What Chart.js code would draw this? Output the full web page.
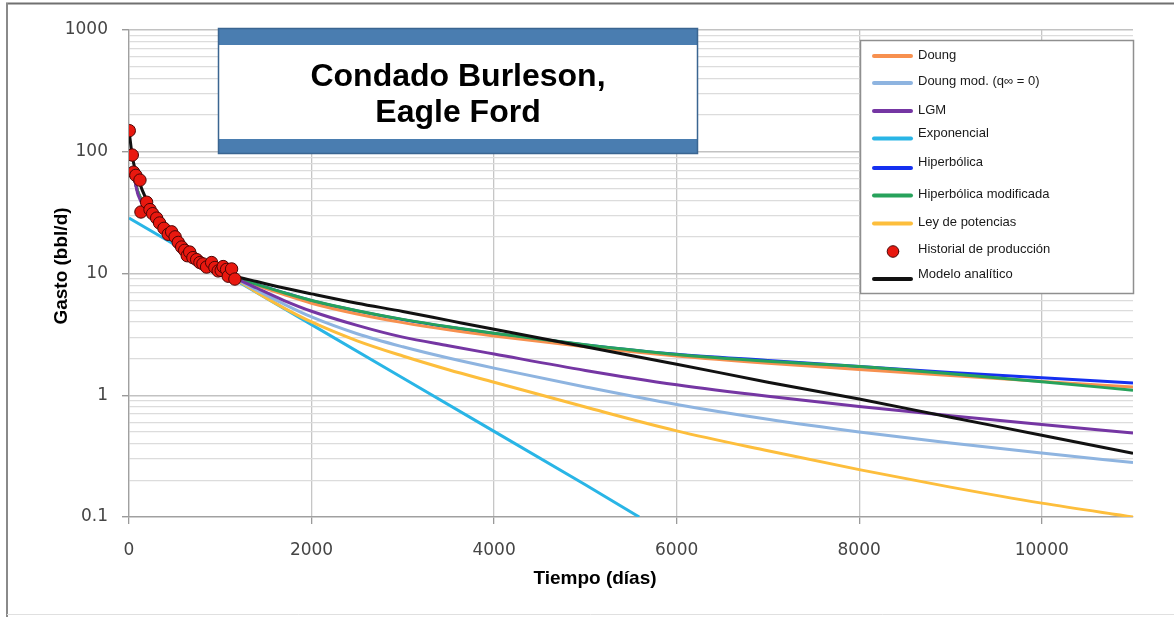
<!DOCTYPE html>
<html>
<head>
<meta charset="utf-8">
<title>Condado Burleson, Eagle Ford</title>
<script src="https://cdn.jsdelivr.net/npm/chart.js@4.4.1/dist/chart.umd.min.js"></script>
<style>
  html, body { margin: 0; padding: 0; background: #ffffff; }
  canvas { display: block; }
</style>
</head>
<body>
<canvas id="chart" width="1174" height="617"></canvas>
<script>
// ---- data ----------------------------------------------------------------
const seriesNames = [
  'Doung', 'Doung mod. (q\u221E = 0)', 'LGM', 'Exponencial', 'Hiperb\u00F3lica',
  'Hiperb\u00F3lica modificada', 'Ley de potencias', 'Historial de producci\u00F3n', 'Modelo anal\u00EDtico'
];

// production history (days, bbl/d)
const prodDays = [3, 36, 50, 75, 120, 131, 193, 230, 259, 303, 335, 383, 430, 467, 505, 540, 577, 610,
  638, 665, 700, 741, 777, 810, 850, 905, 941, 977, 1010, 1032, 1069, 1087, 1124, 1160];
const prodRate = [149, 94, 68, 64, 58.5, 32, 38.5, 33.5, 31, 28.5, 26, 23.5, 21, 22, 20, 18, 16.5, 15.5,
  14, 15, 13.5, 13, 12.3, 12, 11.3, 12.3, 11.2, 10.5, 10.6, 11.4, 10.8, 9.5, 10.9, 9.0];

// forecast models, sampled on a common time grid (days)
const modelDays = [0, 40, 100, 200, 300, 400, 500, 600, 700, 800, 900, 1000, 1150, 1400, 1700, 2000,
  2500, 3000, 3500, 4000, 5000, 6000, 7000, 8000, 9000, 10000, 11000];
const analyticRate = [150, 88, 60, 39, 29, 24, 20.5, 17, 14.7, 13.1, 11.9, 10.9, 9.6, 8.6, 7.6, 6.8,
  5.7, 4.88, 4.12, 3.48, 2.5, 1.8, 1.28, 0.93, 0.66, 0.47, 0.333];
const lgmRate = [null, 72, 44, 33, 27, 22.5, 19, 16.3, 14.3, 12.8, 11.6, 10.6, 9.3, 7.6, 6.0, 4.9,
  3.75, 3.0, 2.55, 2.18, 1.6, 1.22, 0.98, 0.81, 0.68, 0.575, 0.49];
const hypModRate = [null, 70, 46, 34, 27.5, 23, 19.5, 16.8, 14.7, 13.1, 11.9, 10.9, 9.5, 8.15, 6.95, 6.0,
  4.95, 4.2, 3.65, 3.23, 2.6, 2.16, 1.9, 1.72, 1.5, 1.29, 1.1];
const hypRate = [null, 70, 46, 34, 27.5, 23, 19.5, 16.8, 14.7, 13.1, 11.9, 10.9, 9.5, 8.15, 6.95, 5.98,
  4.93, 4.18, 3.63, 3.21, 2.59, 2.17, 1.93, 1.72, 1.54, 1.39, 1.26];
const doungRate = [null, 70, 46, 34, 27.5, 23, 19.5, 16.8, 14.7, 13.1, 11.9, 10.9, 9.4, 8.0, 6.7, 5.7,
  4.65, 3.95, 3.45, 3.07, 2.5, 2.1, 1.83, 1.63, 1.45, 1.3, 1.17];
const doungModRate = [null, 70, 46, 34, 27.5, 23, 19.5, 16.8, 14.7, 13.1, 11.9, 10.9, 9.3, 7.3, 5.6, 4.4,
  3.2, 2.5, 2.02, 1.67, 1.17, 0.84, 0.635, 0.5, 0.405, 0.335, 0.28];
const powerLawRate = [null, 70, 46, 34, 27.5, 23, 19.5, 16.8, 14.7, 13.1, 11.9, 10.9, 9.2, 7.0, 5.2, 4.0,
  2.8, 2.1, 1.62, 1.28, 0.8, 0.51, 0.35, 0.245, 0.176, 0.13, 0.1];
// exponential decline is drawn until it leaves the axis
const expDays = [0, 1000, 2000, 3000, 4000, 5000, 5590];
const expRate = [28.6, 10.43, 3.8, 1.386, 0.505, 0.184, 0.1];

// axis ticks
const xTicks = [0, 2000, 4000, 6000, 8000, 10000];
const yTicks = [0.1, 1, 10, 100, 1000];
const yTickLabels = ['0.1', '1', '10', '100', '1000'];

// ---- helpers ---------------------------------------------------------------
function pairs(xs, ys) {
  const out = [];
  xs.forEach((x, i) => { if (ys[i] !== null && ys[i] !== undefined) out.push({ x: x, y: ys[i] }); });
  return out;
}
function isDecade(v) {
  return yTicks.some(t => Math.abs(t - v) / t < 1e-6);
}
// log grid: 1..9 x 10^k between the axis limits
const yGridValues = [];
for (let k = -1; k <= 2; k++) {
  for (let m = 1; m <= 9; m++) yGridValues.push(Number((m * Math.pow(10, k)).toPrecision(3)));
}
yGridValues.push(1000);

const colors = {
  doung: '#F7904F',
  doungMod: '#8EB4E0',
  lgm: '#7536A3',
  exp: '#29B5E6',
  hyp: '#1530F0',
  hypMod: '#27A25B',
  power: '#FDBE3C',
  prod: '#E8180F',
  analytic: '#111111'
};

function lineSet(label, data, color, order) {
  return {
    label: label, data: data, borderColor: color, backgroundColor: color,
    borderWidth: 3, pointRadius: 0, pointHoverRadius: 0, fill: false,
    cubicInterpolationMode: 'monotone', order: order
  };
}

const datasets = [
  lineSet(seriesNames[0], pairs(modelDays, doungRate), colors.doung, 4),
  lineSet(seriesNames[1], pairs(modelDays, doungModRate), colors.doungMod, 6),
  lineSet(seriesNames[2], pairs(modelDays, lgmRate), colors.lgm, 2),
  Object.assign(lineSet(seriesNames[3], pairs(expDays, expRate), colors.exp, 8),
    { clip: 0, cubicInterpolationMode: 'default', tension: 0 }),
  lineSet(seriesNames[4], pairs(modelDays, hypRate), colors.hyp, 5),
  lineSet(seriesNames[5], pairs(modelDays, hypModRate), colors.hypMod, 3),
  lineSet(seriesNames[6], pairs(modelDays, powerLawRate), colors.power, 7),
  {
    label: seriesNames[7], data: pairs(prodDays, prodRate), showLine: false,
    pointRadius: 6.2, pointHoverRadius: 6.2, pointBackgroundColor: colors.prod,
    pointBorderColor: '#4a0505', pointBorderWidth: 1, order: 0
  },
  lineSet(seriesNames[8], pairs(modelDays, analyticRate), colors.analytic, 1)
];

// ---- decorations: frame, title box, legend, axis titles --------------------
const decorations = {
  id: 'decorations',
  beforeDraw(chart) {
    const c = chart.ctx;
    c.save();
    c.fillStyle = '#ffffff';
    c.fillRect(0, 0, chart.width, chart.height);
    c.restore();
  },
  afterDraw(chart) {
    const c = chart.ctx;
    c.save();

    // outer frame
    c.strokeStyle = '#707070';
    c.lineWidth = 2;
    c.beginPath(); c.moveTo(6, 3.5); c.lineTo(chart.width, 3.5); c.stroke();
    c.strokeStyle = '#8a8a8a';
    c.beginPath(); c.moveTo(7, 3); c.lineTo(7, chart.height); c.stroke();
    c.strokeStyle = '#e0e0e0';
    c.lineWidth = 1;
    c.beginPath(); c.moveTo(7, 614.5); c.lineTo(chart.width, 614.5); c.stroke();

    // title box
    const bx = 218, by = 28, bw = 480, bh = 126;
    c.fillStyle = '#ffffff';
    c.fillRect(bx, by, bw, bh);
    c.fillStyle = '#4A7DB0';
    c.fillRect(bx, by, bw, 17);
    c.fillRect(bx, by + bh - 15, bw, 15);
    c.strokeStyle = '#3A6591';
    c.lineWidth = 1.5;
    c.strokeRect(bx + 0.5, by + 0.5, bw - 1, bh - 1);
    c.fillStyle = '#000000';
    c.font = 'bold 32px "Liberation Sans", Arial, sans-serif';
    c.textAlign = 'center';
    c.textBaseline = 'alphabetic';
    c.fillText('Condado Burleson,', bx + bw / 2, 86);
    c.fillText('Eagle Ford', bx + bw / 2, 122);

    // legend
    const lx = 860, ly = 40, lw = 273, lh = 253;
    c.fillStyle = '#ffffff';
    c.fillRect(lx, ly, lw, lh);
    c.strokeStyle = '#8f8f8f';
    c.lineWidth = 1.5;
    c.strokeRect(lx + 0.5, ly + 0.5, lw, lh);
    const rows = [
      { i: 0, line: 56, text: 55.5 },
      { i: 1, line: 83, text: 81.5 },
      { i: 2, line: 111, text: 110 },
      { i: 3, line: 138.5, text: 133 },
      { i: 4, line: 168, text: 162.5 },
      { i: 5, line: 195.5, text: 194 },
      { i: 6, line: 223.5, text: 222.5 },
      { i: 7, line: 251.5, text: 249 },
      { i: 8, line: 279, text: 274 }
    ];
    c.font = '13px "Liberation Sans", Arial, sans-serif';
    c.textAlign = 'left';
    c.textBaseline = 'middle';
    rows.forEach(r => {
      const ds = chart.data.datasets[r.i];
      if (ds.showLine === false) {
        c.beginPath();
        c.arc(893, r.line, 5.8, 0, Math.PI * 2);
        c.fillStyle = ds.pointBackgroundColor;
        c.fill();
        c.strokeStyle = ds.pointBorderColor;
        c.lineWidth = 1;
        c.stroke();
      } else {
        c.strokeStyle = ds.borderColor;
        c.lineWidth = 4;
        c.lineCap = 'round';
        c.beginPath(); c.moveTo(874, r.line); c.lineTo(911, r.line); c.stroke();
      }
      c.fillStyle = '#1a1a1a';
      c.fillText(ds.label, 918, r.text);
    });

    // axis titles
    c.fillStyle = '#000000';
    c.font = 'bold 19px "Liberation Sans", Arial, sans-serif';
    c.textAlign = 'center';
    c.textBaseline = 'middle';
    c.fillText('Tiempo (d\u00EDas)', 595, 579);
    c.translate(62, 266);
    c.rotate(-Math.PI / 2);
    c.fillText('Gasto (bbl/d)', 0, 0);

    c.restore();
  }
};

// ---- chart -----------------------------------------------------------------
new Chart(document.getElementById('chart'), {
  type: 'line',
  data: { datasets: datasets },
  options: {
    responsive: false,
    animation: false,
    devicePixelRatio: 1,
    layout: { padding: { top: 30, right: 41, left: 0, bottom: 0 } },
    plugins: { legend: { display: false }, title: { display: false }, tooltip: { enabled: false } },
    scales: {
      x: {
        type: 'linear',
        min: 0,
        max: 11000,
        afterBuildTicks: s => { s.ticks = xTicks.map(v => ({ value: v })); },
        afterFit: s => { s.height = 100; },
        grid: { color: '#c6c6c6', lineWidth: 1.3, tickLength: 7, tickColor: '#9a9a9a' },
        border: { display: true, color: '#a0a0a0', width: 1.3 },
        ticks: {
          autoSkip: false, maxRotation: 0, padding: 16, color: '#454545',
          font: { family: '"DejaVu Sans", Verdana, sans-serif', size: 17 },
          callback: v => String(v)
        }
      },
      y: {
        type: 'logarithmic',
        min: 0.1,
        max: 1000,
        afterBuildTicks: s => { s.ticks = yGridValues.map(v => ({ value: v })); },
        afterFit: s => { s.width = 129; },
        grid: {
          color: ctx => (ctx.tick && isDecade(ctx.tick.value)) ? '#c2c2c2' : '#dcdcdc',
          lineWidth: ctx => (ctx.tick && isDecade(ctx.tick.value)) ? 1.4 : 1.3,
          tickLength: 7,
          tickColor: ctx => (ctx.tick && isDecade(ctx.tick.value)) ? '#9a9a9a' : 'rgba(0,0,0,0)'
        },
        border: { display: true, color: '#a0a0a0', width: 1.3 },
        ticks: {
          autoSkip: false, padding: 14, color: '#454545',
          font: { family: '"DejaVu Sans", Verdana, sans-serif', size: 17 },
          callback: v => {
            const k = yTicks.findIndex(t => Math.abs(t - v) / t < 1e-6);
            return k >= 0 ? yTickLabels[k] : '';
          }
        }
      }
    }
  },
  plugins: [decorations]
});
</script>
</body>
</html>
